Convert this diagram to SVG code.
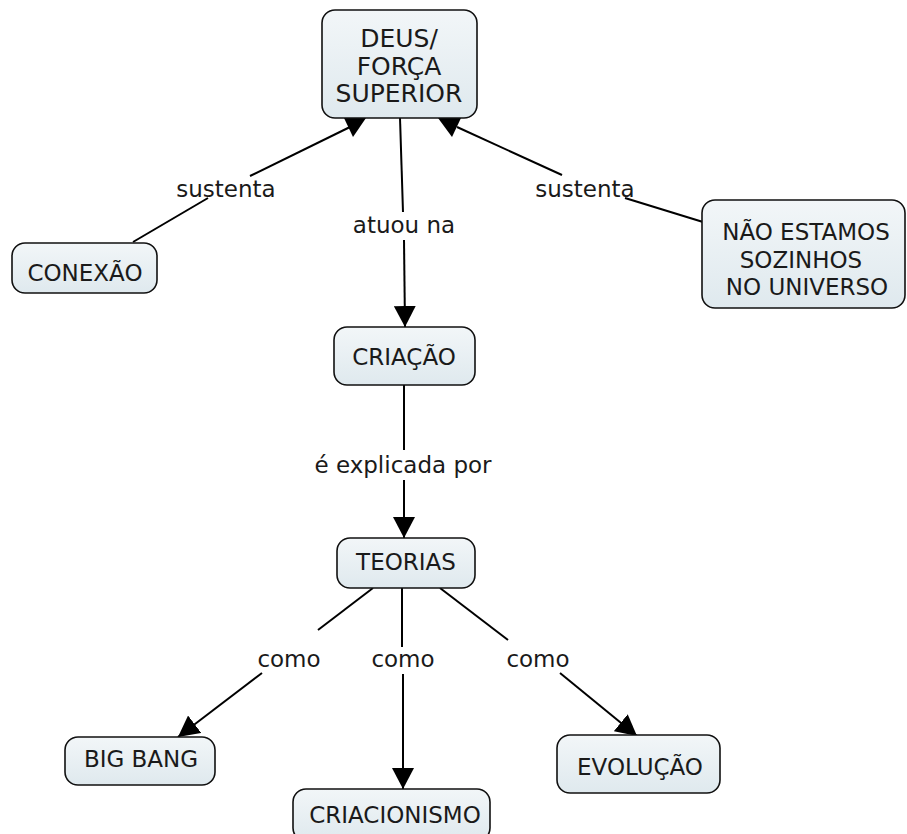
<svg xmlns="http://www.w3.org/2000/svg" width="907" height="834" viewBox="0 0 907 834">
<defs>
<linearGradient id="g" x1="0" y1="0" x2="0" y2="1">
<stop offset="0" stop-color="#f2f6f8"/>
<stop offset="1" stop-color="#dfe9ee"/>
</linearGradient>
<marker id="arr" markerUnits="userSpaceOnUse" markerWidth="22" markerHeight="22" refX="21" refY="11" orient="auto">
<path d="M0,0 L21,11 L0,22 z" fill="#000"/>
</marker>
<style>
.box{fill:url(#g);stroke:#111;stroke-width:1.6}
.t{font-family:"DejaVu Sans","Liberation Sans",sans-serif;font-size:23px;fill:#1a1a1a;text-anchor:middle}
.big{font-size:25px}
.c{stroke:#000;stroke-width:2;fill:none}
.a{marker-end:url(#arr)}
</style>
</defs>
<rect width="907" height="834" fill="#fff"/>
<g id="connectors">
<line class="c" x1="133" y1="242" x2="208" y2="198"/>
<line class="c" x1="250" y1="176" x2="350" y2="127"/>
<polygon points="344,118 366,118 353,137" fill="#000"/>
<line class="c" x1="457" y1="127" x2="562" y2="175"/>
<line class="c" x1="625" y1="198" x2="703" y2="222"/>
<polygon points="438,118 461,118 452,137" fill="#000"/>
<line class="c" x1="400" y1="118" x2="403" y2="212"/>
<line class="c a" x1="404" y1="240" x2="405" y2="327"/>
<line class="c" x1="404" y1="385" x2="404" y2="450"/>
<line class="c a" x1="404" y1="480" x2="404" y2="538"/>
<line class="c" x1="373" y1="588" x2="318" y2="630"/>
<line class="c a" x1="262" y1="673" x2="178" y2="737"/>
<line class="c" x1="402" y1="588" x2="402" y2="647"/>
<line class="c a" x1="403" y1="674" x2="403" y2="789"/>
<line class="c" x1="440" y1="588" x2="508" y2="640"/>
<line class="c a" x1="560" y1="673" x2="637" y2="736"/>
<text class="t" x="226" y="197">sustenta</text>
<text class="t" x="585" y="197">sustenta</text>
<text class="t" x="404" y="233">atuou na</text>
<text class="t" x="403" y="473">é explicada por</text>
<text class="t" x="289" y="667">como</text>
<text class="t" x="403" y="667">como</text>
<text class="t" x="538" y="667">como</text>
</g>
<g id="deus">
<rect class="box" x="322" y="10" width="155" height="108" rx="13"/>
<text class="t big" x="399" y="47">DEUS/</text>
<text class="t big" x="399" y="75">FORÇA</text>
<text class="t big" x="399" y="102">SUPERIOR</text>
</g>
<g id="conexao">
<rect class="box" x="12" y="243" width="145" height="50" rx="13"/>
<text class="t" x="85" y="281">CONEXÃO</text>
</g>
<g id="nao-estamos">
<rect class="box" x="702" y="200" width="203" height="108" rx="13"/>
<text class="t" x="806" y="240">NÃO ESTAMOS</text>
<text class="t" x="801" y="268">SOZINHOS</text>
<text class="t" x="807" y="295">NO UNIVERSO</text>
</g>
<g id="criacao">
<rect class="box" x="334" y="327" width="141" height="58" rx="13"/>
<text class="t" x="404" y="365">CRIAÇÃO</text>
</g>
<g id="teorias">
<rect class="box" x="337" y="538" width="138" height="50" rx="13"/>
<text class="t" x="406" y="570">TEORIAS</text>
</g>
<g id="big-bang">
<rect class="box" x="65" y="737" width="150" height="48" rx="13"/>
<text class="t" x="141" y="767">BIG BANG</text>
</g>
<g id="criacionismo">
<rect class="box" x="293" y="789" width="197" height="52" rx="13"/>
<text class="t" x="395" y="823">CRIACIONISMO</text>
</g>
<g id="evolucao">
<rect class="box" x="557" y="735" width="163" height="58" rx="13"/>
<text class="t" x="640" y="775">EVOLUÇÃO</text>
</g>
</svg>
